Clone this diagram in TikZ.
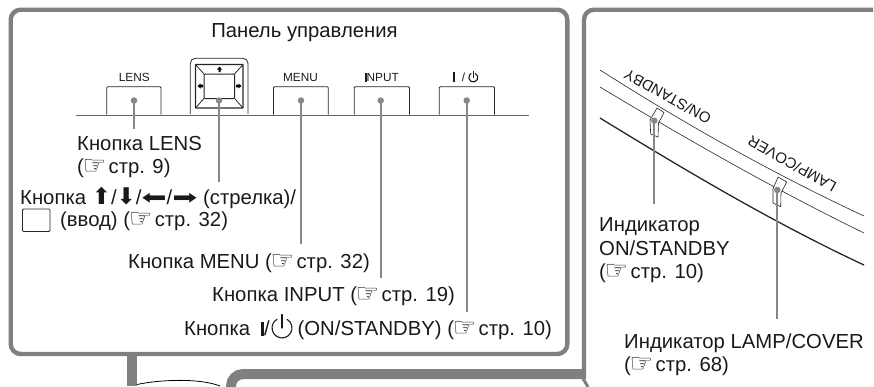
\documentclass[tikz,border=0pt]{standalone}
\usepackage{fontspec}
\setmainfont{Liberation Sans}
\newfontfamily\djv{DejaVu Sans}
\definecolor{framegray}{gray}{0.5}
\definecolor{leadgray}{gray}{0.53}
\tikzset{
  panel/.style={draw=framegray,line width=4.4pt},
  lead/.style={draw=leadgray,line width=1.9pt},
  dotend/.style={circle,fill=leadgray,inner sep=0pt,minimum size=6.5pt},
  btn/.style={draw=black!85,line width=0.8pt,rounded corners=1pt},
  lbl/.style={anchor=base west,inner sep=0pt,font=\fontsize{20.3}{22}\selectfont,text=black!90},
  small/.style={anchor=base,inner sep=0pt,font=\fontsize{11.8}{13}\selectfont,text=black!90},
  slant/.style={inner sep=0pt,font=\fontsize{15}{16}\selectfont,text=black!90},
  thinline/.style={draw=black!85,line width=0.6pt},
  powericon/.style={draw=black!90,line cap=round},
}
\newcommand{\hand}{\makebox[19pt]{\hspace{2pt}\raisebox{-1pt}{\smash{\scalebox{1.15}[1.15]{\djv\fontsize{23}{23}\selectfont ☞}}}}}
\newcommand{\ua}{\smash{\djv\fontsize{23}{23}\selectfont ⬆}}
\newcommand{\da}{\smash{\djv\fontsize{23}{23}\selectfont ⬇}}
\newcommand{\la}{\scalebox{1.5}[1]{\smash{\djv\fontsize{20}{20}\selectfont ⬅}}}
\newcommand{\ra}{\scalebox{1.5}[1]{\smash{\djv\fontsize{20}{20}\selectfont ➡}}}
\begin{document}
\begin{tikzpicture}[x=1pt,y=-1pt]
\useasboundingbox (0,0) rectangle (874,386);
\clip (0,0) rectangle (874,386);
% connector strip
\fill[framegray] (127,354) rectangle (137,386);
\draw[black,line width=0.8pt] (137,384.5) .. controls (160,379.5) and (200,378) .. (220,386);
% lower panel
\draw[framegray,line width=10pt,rounded corners=12pt] (231,390) -- (231,374) -- (584,374);
% right panel
\draw[panel,rounded corners=10pt] (584,379) -- (584,9.7) -- (873,9.7);
\draw[framegray,line width=3pt] (583,378.5) -- (588,387);
% left panel
\draw[panel,rounded corners=10pt] (10.7,9.7) rectangle (567.3,354);
% panel title
\node[anchor=base,inner sep=0pt,font=\fontsize{20.3}{22}\selectfont,text=black!90] (title) at (304.5,37) {Панель управления};
% base line
\draw[draw=black!60,line width=0.9pt] (76,115) -- (529,115);
% buttons
\node[small] (tlens) at (134.3,81.5) {LENS};
\node[small] (tmenu) at (300.5,81.5) {MENU};
\node[small] (tinput) at (382,81.5) {\rule{1.5pt}{8.5pt}NPUT};
\node[small,anchor=base west] (tpow) at (453,81.5) {\rule{1.7pt}{9.5pt}\hspace{7pt}/};
\draw[powericon,line width=1.1pt] (475.55,73.6) arc[start angle=-60,end angle=240,radius=4.5];
\draw[powericon,line width=1.1pt] (473.3,71.5) -- (473.3,77.5);
\draw[btn] (106.7,114.5) |- (161,86.7) -- (161,114.5);
\draw[btn] (273.5,114.5) |- (328.3,86.7) -- (328.3,114.5);
\draw[btn] (354.3,114.5) |- (409.5,86.7) -- (409.5,114.5);
\draw[btn] (439.3,114.5) |- (494.5,86.7) -- (494.5,114.5);
% joystick
\draw[btn,rounded corners=5pt] (190.3,114) -- (190.3,58.3) -- (248,58.3) -- (248,114);
\draw[btn,line width=1.2pt,rounded corners=0.5pt] (195.5,64.5) rectangle (243,108);
\draw[btn,line width=1pt,rounded corners=1pt] (204,74) rectangle (234.5,98.5);
\draw[thinline,line width=0.8pt] (195.5,64.5) -- (204,74) (243,64.5) -- (234.5,74) (195.5,108) -- (204,98.5) (243,108) -- (234.5,98.5);
\fill[black] (219.5,66.5) -- (222,69.5) -- (220.5,69.5) -- (220.5,72) -- (218.5,72) -- (218.5,69.5) -- (217,69.5) -- cycle;
\fill[black] (197.5,86) -- (200.5,83.5) -- (200.5,84.7) -- (203,84.7) -- (203,87.3) -- (200.5,87.3) -- (200.5,88.5) -- cycle;
\fill[black] (241.5,86) -- (238.5,83.5) -- (238.5,84.7) -- (236,84.7) -- (236,87.3) -- (238.5,87.3) -- (238.5,88.5) -- cycle;
% leader ends
\node[dotend] (dlens) at (134,100.5) {};
\node[dotend] (djoy) at (219,100.5) {};
\node[dotend] (dmenu) at (301,100.5) {};
\node[dotend] (dinput) at (380.7,100.5) {};
\node[dotend] (dpow) at (466.7,100.5) {};
\coordinate (elens) at (134,129);
\coordinate (ejoy) at (219,182);
\coordinate (emenu) at (301,244);
\coordinate (einput) at (380.7,278);
\coordinate (epow) at (466.7,312);
\draw[lead] (dlens.center) -- (elens);
\draw[lead] (djoy.center) -- (ejoy);
\draw[lead] (dmenu.center) -- (emenu);
\draw[lead] (dinput.center) -- (einput);
\draw[lead] (dpow.center) -- (epow);
% labels
\node[lbl] (l1) at (77,150) {Кнопка LENS};
\node[lbl] (l1b) at (77,173) {(\hand{} стр. 9)};
\node[lbl] (l2) at (20,204) {Кнопка \ua/\da/\la/\ra{} (стрелка)/};
\node[btn,minimum width=27.5pt,minimum height=22.5pt,inner sep=0pt] (ebox) at (36.2,220.3) {};
\node[lbl] (l2b) at (60,226.7) {(ввод) (\hand{} стр. 32)};
\node[lbl] (l3) at (128,268) {Кнопка MENU (\hand{} стр. 32)};
\node[lbl] (l4) at (212,301.7) {Кнопка INPUT (\hand{} стр. 19)};
\node[lbl] (l5) at (184,335.7) {Кнопка\hspace{10.5pt}\rule{3.4pt}{14pt}/\hspace{28pt}(ON/STANDBY) (\hand{} стр. 10)};
\draw[powericon,line width=1.1pt] (287,319.3) arc[start angle=-60,end angle=240,radius=10];
\draw[powericon,line width=1.1pt] (282,314.5) -- (282,328);
% right diagram
\draw[thinline] (600,70) .. controls (688,126) and (776,175) .. (864,216);
\draw[thinline] (600,87) .. controls (688,140) and (776,190) .. (864,233);
\draw[draw=black!85,line width=1.3pt] (600,118) .. controls (688,172) and (776,224) .. (864,265);
\node[slant,rotate=151] (ton) at (667.5,96.5) {ON/STANDBY};
\node[slant,rotate=151] (tlamp) at (792,164) {LAMP/COVER};
\draw[thinline,fill=white] (657,108) -- (664,112.5) -- (658.5,123) -- (658,137) -- (650.7,134) -- (650,120) -- cycle;
\draw[thinline,fill=white] (778,177) -- (786.7,182) -- (781,193) -- (780.7,206.7) -- (773,203) -- (773,189) -- cycle;
\node[dotend] (don) at (654.3,120.7) {};
\node[dotend] (dlamp) at (777.3,190) {};
\coordinate (eon) at (654.3,204);
\coordinate (elamp) at (777.3,319);
\draw[lead] (don.center) -- (eon);
\draw[lead] (dlamp.center) -- (elamp);
\node[lbl] (r1) at (599,231.7) {Индикатор};
\node[lbl] (r1b) at (599,255.7) {ON/STANDBY};
\node[lbl] (r1c) at (599,278) {(\hand{} стр. 10)};
\node[lbl] (r2) at (624,348) {Индикатор LAMP/COVER};
\node[lbl] (r2b) at (624,371.7) {(\hand{} стр. 68)};
\end{tikzpicture}
\end{document}
